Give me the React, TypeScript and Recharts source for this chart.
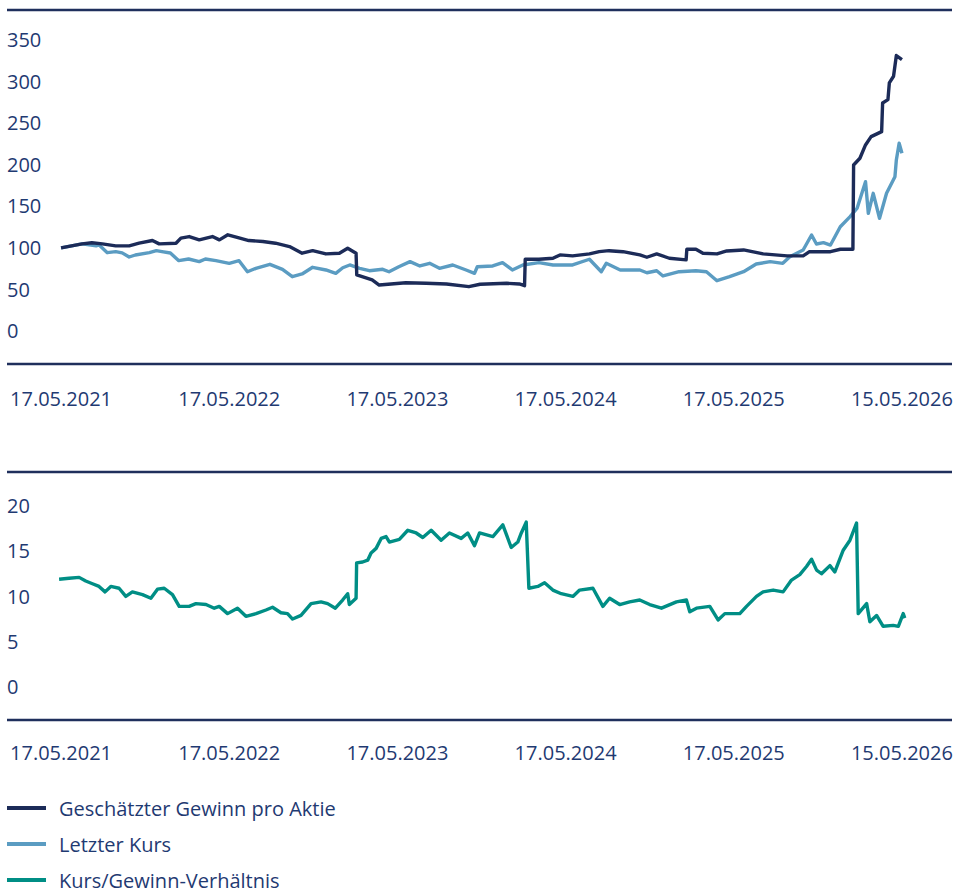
import React from "react";
import { LineChart, Line, XAxis, YAxis, ReferenceLine } from "recharts";

// time axis: months since 17.05.2021
const xTicks = [0, 12, 24, 36, 48, 60];
const xTickLabels = ["17.05.2021", "17.05.2022", "17.05.2023", "17.05.2024", "17.05.2025", "15.05.2026"];
const topTicks = [0, 50, 100, 150, 200, 250, 300, 350];
const bottomTicks = [0, 5, 10, 15, 20];

// Geschätzter Gewinn pro Aktie (indexed)
const epsPoints: [number, number][] = [
  [0, 100], [1.5, 104.8], [2.2, 106.2], [2.95, 104.8], [3.9, 102.4], [4.86, 102.4], [5.57, 105.6],
  [6.52, 108.8], [7.0, 104.8], [8.2, 105.6], [8.55, 111.7], [9.14, 113.6], [9.86, 109.6], [10.8, 113.6],
  [11.3, 109.6], [11.9, 115.7], [12.5, 112.9], [13.4, 108.8], [14.4, 107.6], [15.3, 105.6], [16.3, 101.5],
  [17.2, 93.6], [17.95, 96.7], [18.9, 92.7], [19.86, 93.5], [20.45, 99.5], [21.05, 93.5], [21.1, 67.4],
  [22.2, 61.4], [22.7, 55.3], [24.6, 58.1], [26.05, 57.4], [27.5, 56.6], [29.1, 53.3], [29.9, 56.2],
  [31.8, 57.4], [32.7, 56.6], [33.07, 54.5], [33.12, 86.3], [34.1, 86.3], [35.1, 87.5], [35.6, 91.5],
  [36.5, 90.3], [37.7, 92.7], [38.4, 95.4], [39.1, 96.6], [40.1, 95.4], [41.3, 91.5], [41.8, 88.7],
  [42.5, 92.7], [43.4, 87.5], [44.6, 85.5], [44.65, 98.3], [45.3, 98.3], [45.8, 93.5], [46.8, 92.7],
  [47.5, 96.3], [48.7, 97.5], [50.1, 92.7], [51.8, 90.3], [52.95, 90.3], [53.4, 95.4], [54.9, 95.4],
  [55.6, 98.3], [56.5, 98.3], [56.55, 199.7], [57.0, 207.8], [57.4, 223.8], [57.8, 233.8], [58.55, 239.8],
  [58.62, 274.3], [59.0, 278.3], [59.1, 298.4], [59.4, 306.4], [59.6, 331.3], [60, 326.5],
];

// Letzter Kurs (indexed)
const pricePoints: [number, number][] = [
  [0, 100], [1.5, 104.8], [2.5, 102.4], [2.7, 103.6], [3.3, 94.2], [3.9, 95.4], [4.36, 94.0], [4.86, 89.0],
  [5.3, 91.4], [6.3, 94.2], [6.8, 96.6], [7.2, 95.4], [7.8, 93.8], [8.4, 84.6], [9.1, 86.6], [9.86, 83.4],
  [10.3, 86.6], [11.05, 84.6], [12.0, 81.4], [12.7, 84.6], [13.3, 71.3], [13.9, 75.4], [14.9, 80.2],
  [15.8, 74.2], [16.5, 65.3], [17.2, 68.6], [17.95, 76.6], [18.9, 73.4], [19.6, 69.4], [20.1, 76.1],
  [20.6, 79.4], [21.3, 75.4], [22.0, 72.5], [22.95, 74.2], [23.4, 71.3], [24.1, 77.3], [24.9, 83.4],
  [25.6, 78.2], [26.3, 81.4], [27.0, 75.4], [27.95, 79.4], [28.9, 73.4], [29.5, 69.4], [29.7, 77.3],
  [30.8, 78.2], [31.5, 82.2], [32.2, 73.4], [32.95, 79.4], [34.1, 82.2], [35.1, 79.4], [36.5, 79.4],
  [37.7, 86.3], [38.55, 71.3], [38.9, 81.4], [39.9, 73.4], [41.3, 73.4], [41.8, 70.1], [42.5, 72.5],
  [42.95, 66.2], [44.1, 71.3], [45.3, 72.5], [46.05, 71.3], [46.8, 60.5], [47.7, 65.3], [48.7, 71.3],
  [49.6, 80.6], [50.6, 83.4], [51.5, 81.4], [52.0, 89.4], [52.95, 97.4], [53.55, 115.5], [53.9, 104.6],
  [54.4, 106.2], [54.9, 103.4], [55.6, 125.4], [56.3, 137.5], [56.8, 147.6], [57.4, 179.6], [57.6, 141.6],
  [57.95, 165.6], [58.4, 135.6], [58.9, 165.6], [59.5, 185.6], [59.6, 205.7], [59.8, 225.8], [60, 213.7],
];

// Kurs/Gewinn-Verhältnis
const pePoints: [number, number][] = [
  [-0.14, 11.9], [0.57, 12.0], [1.29, 12.1], [1.76, 11.7], [2.24, 11.4], [2.71, 11.1], [3.14, 10.5],
  [3.55, 11.1], [4.14, 10.9], [4.62, 10.0], [5.09, 10.5], [5.81, 10.2], [6.41, 9.8], [6.88, 10.8],
  [7.36, 10.9], [7.95, 10.2], [8.43, 8.9], [9.14, 8.9], [9.62, 9.2], [10.34, 9.1], [10.93, 8.7],
  [11.29, 8.9], [11.88, 8.1], [12.59, 8.7], [13.19, 7.8], [13.91, 8.1], [14.62, 8.5], [15.09, 8.8],
  [15.69, 8.2], [16.16, 8.1], [16.52, 7.5], [17.12, 7.9], [17.84, 9.2], [18.55, 9.4], [19.02, 9.2],
  [19.57, 8.7], [20.09, 9.6], [20.45, 10.3], [20.57, 9.1], [21.05, 9.8], [21.09, 13.7], [21.52, 13.8],
  [21.88, 14.0], [22.12, 14.8], [22.48, 15.3], [22.84, 16.4], [23.19, 16.6], [23.43, 16.0], [24.14, 16.3],
  [24.74, 17.3], [25.34, 17.0], [25.81, 16.5], [26.41, 17.3], [27.12, 16.2], [27.71, 17.0], [28.55, 16.4],
  [29.02, 17.0], [29.5, 15.6], [29.86, 17.0], [30.81, 16.6], [31.52, 17.9], [32.12, 15.4], [32.59, 16.0],
  [32.84, 17.0], [33.19, 18.2], [33.38, 10.9], [34.02, 11.1], [34.5, 11.5], [35.09, 10.7], [35.69, 10.3],
  [36.52, 10.0], [37.0, 10.7], [37.95, 10.9], [38.66, 8.9], [39.14, 9.8], [39.86, 9.1], [40.57, 9.4],
  [41.29, 9.6], [42.0, 9.1], [42.84, 8.7], [43.91, 9.4], [44.62, 9.6], [44.86, 8.3], [45.34, 8.7],
  [46.29, 8.9], [46.88, 7.4], [47.36, 8.1], [48.43, 8.1], [48.91, 8.9], [49.62, 10.0], [50.09, 10.5],
  [50.81, 10.7], [51.52, 10.5], [52.12, 11.8], [52.71, 12.4], [53.19, 13.3], [53.55, 14.1], [53.91, 12.9],
  [54.26, 12.5], [54.86, 13.4], [55.21, 12.7], [55.81, 15.1], [56.29, 16.2], [56.76, 18.1], [56.88, 8.1],
  [57.48, 9.2], [57.71, 7.2], [58.19, 7.9], [58.66, 6.7], [59.38, 6.8], [59.74, 6.7], [60.09, 8.1], [60.2, 7.6],
];

const seriesNames = ["Geschätzter Gewinn pro Aktie", "Letzter Kurs", "Kurs/Gewinn-Verhältnis"];
const seriesColors = ["#1c2b58", "#5b9cc2", "#008e85"];

const toData = (pts: [number, number][]) => pts.map(([t, v]) => ({ t, v }));
const epsData = toData(epsPoints);
const priceData = toData(pricePoints);
const peData = toData(pePoints);

const FONT = "'Open Sans', Lato, sans-serif";
const TEXT = "#1f3a72";
const RULE = "#1f2f5c";
const xDomain: [number, number] = [-3.857, 63.571];
const topDomain: [number, number] = [-39.7, 386.1];
const bottomDomain: [number, number] = [-3.64, 23.73];
const tickStyle = { fill: TEXT, fontSize: 20, fontFamily: FONT };
const fmtX = (v: number) => xTickLabels[xTicks.indexOf(v)] ?? "";
const LW = 3.4;

export default function App() {
  return (
    <div style={{ position: "absolute", left: 0, top: 0, width: 960, height: 896, background: "#fff", fontFamily: FONT }}>
      <div style={{ position: "absolute", left: 0, top: 0 }}>
        <LineChart width={960} height={430} margin={{ top: 10, right: 8, left: 7, bottom: 0 }}>
          <XAxis
            dataKey="t"
            type="number"
            domain={xDomain}
            ticks={xTicks}
            tickFormatter={fmtX}
            allowDataOverflow
            height={66}
            tickLine={false}
            tickSize={0}
            tickMargin={28}
            axisLine={{ stroke: RULE, strokeWidth: 2.5 }}
            tick={tickStyle}
            interval={0}
          />
          <YAxis
            type="number"
            domain={topDomain}
            ticks={topTicks}
            allowDataOverflow
            width={1}
            mirror
            axisLine={false}
            tickLine={false}
            tickSize={0}
            tickMargin={0}
            tick={{ ...tickStyle, textAnchor: "start" }}
            interval={0}
          />
          <ReferenceLine y={topDomain[1]} stroke={RULE} strokeWidth={2.5} ifOverflow="visible" />
          <Line data={priceData} dataKey="v" type="linear" stroke={seriesColors[1]} strokeWidth={LW} strokeLinejoin="round" dot={false} isAnimationActive={false} />
          <Line data={epsData} dataKey="v" type="linear" stroke={seriesColors[0]} strokeWidth={LW} strokeLinejoin="round" dot={false} isAnimationActive={false} />
        </LineChart>
      </div>
      <div style={{ position: "absolute", left: 0, top: 440 }}>
        <LineChart width={960} height={330} margin={{ top: 32, right: 8, left: 7, bottom: 0 }}>
          <XAxis
            dataKey="t"
            type="number"
            domain={xDomain}
            ticks={xTicks}
            tickFormatter={fmtX}
            allowDataOverflow
            height={50}
            tickLine={false}
            tickSize={0}
            tickMargin={26}
            axisLine={{ stroke: RULE, strokeWidth: 2.5 }}
            tick={tickStyle}
            interval={0}
          />
          <YAxis
            type="number"
            domain={bottomDomain}
            ticks={bottomTicks}
            allowDataOverflow
            width={1}
            mirror
            axisLine={false}
            tickLine={false}
            tickSize={0}
            tickMargin={0}
            tick={{ ...tickStyle, textAnchor: "start" }}
            interval={0}
          />
          <ReferenceLine y={bottomDomain[1]} stroke={RULE} strokeWidth={2.5} ifOverflow="visible" />
          <Line data={peData} dataKey="v" type="linear" stroke={seriesColors[2]} strokeWidth={LW} strokeLinejoin="round" dot={false} isAnimationActive={false} />
        </LineChart>
      </div>
      <div style={{ position: "absolute", left: 7, top: 790 }}>
        {seriesNames.map((name, i) => (
          <div key={name} style={{ display: "flex", alignItems: "center", height: 36, color: TEXT, fontSize: 20, fontFamily: FONT }}>
            <svg width={40} height={6} style={{ marginRight: 12 }}>
              <line x1={0} y1={3} x2={39} y2={3} stroke={seriesColors[i]} strokeWidth={4} />
            </svg>
            <span>{name}</span>
          </div>
        ))}
      </div>
    </div>
  );
}
